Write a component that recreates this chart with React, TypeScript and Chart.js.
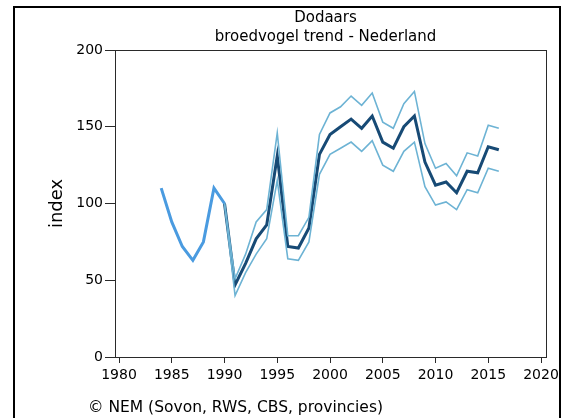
import React, { useEffect, useRef } from "react";
import { Chart, registerables } from "chart.js";

Chart.register(...registerables);

const titleLines = ["Dodaars", "broedvogel trend - Nederland"];
const yAxisTitle = "index";
const footerText = "© NEM (Sovon, RWS, CBS, provincies)";

const years = [
  1984, 1985, 1986, 1987, 1988, 1989, 1990, 1991, 1992, 1993, 1994, 1995,
  1996, 1997, 1998, 1999, 2000, 2001, 2002, 2003, 2004, 2005, 2006, 2007,
  2008, 2009, 2010, 2011, 2012, 2013, 2014, 2015, 2016,
];

// early (unimputed) index 1984-1990
const earlyIndex = [
  110, 88, 72, 63, 75, 110, 100, null, null, null, null, null,
  null, null, null, null, null, null, null, null, null, null, null, null,
  null, null, null, null, null, null, null, null, null,
];

const trendIndex = [
  null, null, null, null, null, null, 100, 47, 61, 77, 86, 131,
  72, 71, 84, 132, 145, 150, 155, 149, 157, 140, 136, 150,
  157, 127, 112, 114, 107, 121, 120, 137, 135,
];

const upperBound = [
  null, null, null, null, null, null, 100, 51, 67, 88, 96, 146,
  79, 79, 91, 145, 159, 163, 170, 164, 172, 153, 149, 165,
  173, 139, 123, 126, 118, 133, 131, 151, 149,
];

const lowerBound = [
  null, null, null, null, null, null, 100, 40, 55, 67, 77, 115,
  64, 63, 75, 119, 132, 136, 140, 134, 141, 125, 121, 134,
  140, 111, 99, 101, 96, 109, 107, 123, 121,
];

const xTicks = [1980, 1985, 1990, 1995, 2000, 2005, 2010, 2015, 2020];
const yTicks = [0, 50, 100, 150, 200];

const toPoints = (vals: (number | null)[]) =>
  years.map((y, i) => ({ x: y, y: vals[i] }));

export default function App() {
  const ref = useRef<HTMLCanvasElement | null>(null);

  useEffect(() => {
    if (!ref.current) return;

    const framePlugin = {
      id: "framePlugin",
      beforeDatasetsDraw(chart: any) {
        const { ctx, chartArea } = chart;
        ctx.save();
        ctx.strokeStyle = "#2a2a2a";
        ctx.lineWidth = 1;
        ctx.strokeRect(
          Math.round(chartArea.left) + 0.5,
          Math.round(chartArea.top) + 0.5,
          Math.round(chartArea.right - chartArea.left),
          Math.round(chartArea.bottom - chartArea.top)
        );
        ctx.restore();
      },
      afterDraw(chart: any) {
        const { ctx, chartArea } = chart;
        ctx.save();
        ctx.fillStyle = "#000";
        ctx.textAlign = "center";
        ctx.textBaseline = "middle";
        ctx.font = "15px 'DejaVu Sans'";
        const cx = (chartArea.left + chartArea.right) / 2 - 5;
        ctx.fillText(titleLines[0], cx, 18);
        ctx.fillText(titleLines[1], cx, 37);
        ctx.textAlign = "left";
        ctx.font = "15.5px 'DejaVu Sans'";
        ctx.fillText(footerText, 88, 408);
        ctx.restore();
      },
    };

    const chart = new Chart(ref.current, {
      type: "line",
      data: {
        datasets: [
          {
            label: "early",
            data: toPoints(earlyIndex),
            borderColor: "#4a9be0",
            borderWidth: 3,
            pointRadius: 0,
            spanGaps: false,
          },
          {
            label: "upper",
            data: toPoints(upperBound),
            borderColor: "#6db3d4",
            borderWidth: 1.6,
            pointRadius: 0,
          },
          {
            label: "lower",
            data: toPoints(lowerBound),
            borderColor: "#6db3d4",
            borderWidth: 1.6,
            pointRadius: 0,
          },
          {
            label: "index",
            data: toPoints(trendIndex),
            borderColor: "#174a75",
            borderWidth: 3,
            pointRadius: 0,
          },
        ],
      },
      options: {
        animation: false,
        responsive: false,
        maintainAspectRatio: false,
        layout: { padding: { left: 0, right: 16, top: 50, bottom: 0 } },
        plugins: {
          legend: { display: false },
          title: { display: false },
          tooltip: { enabled: false },
        },
        scales: {
          x: {
            type: "linear",
            min: 1979.62,
            max: 2020.47,
            afterBuildTicks: (axis: any) => {
              axis.ticks = xTicks.map((v) => ({ value: v }));
            },
            afterFit: (axis: any) => {
              axis.height = 61;
            },
            grid: {
              display: true,
              drawOnChartArea: false,
              drawTicks: true,
              tickLength: 6,
              color: "#2a2a2a",
            },
            border: { display: true, color: "#2a2a2a" },
            ticks: {
              color: "#000",
              font: { family: "'DejaVu Sans'", size: 14 },
              padding: 4,
              maxRotation: 0,
              autoSkip: false,
              callback: (v: any) => String(v),
            },
          },
          y: {
            min: 0,
            max: 200,
            afterBuildTicks: (axis: any) => {
              axis.ticks = yTicks.map((v) => ({ value: v }));
            },
            afterFit: (axis: any) => {
              axis.width = 115;
            },
            grid: {
              display: true,
              drawOnChartArea: false,
              drawTicks: true,
              tickLength: 10,
              color: "#2a2a2a",
            },
            border: { display: true, color: "#2a2a2a" },
            title: {
              display: true,
              text: yAxisTitle,
              color: "#000",
              font: { family: "'DejaVu Sans'", size: 18 },
              padding: { top: 47, bottom: 0 },
            },
            ticks: {
              color: "#000",
              font: { family: "'DejaVu Sans'", size: 14 },
              padding: 2,
              autoSkip: false,
              callback: (v: any) => String(v),
            },
          },
        },
      },
      plugins: [framePlugin],
    });

    return () => chart.destroy();
  }, []);

  return (
    <div
      style={{
        position: "fixed",
        left: 0,
        top: 0,
        width: 563,
        height: 418,
        background: "#fff",
        overflow: "hidden",
      }}
    >
      <div
        style={{
          position: "absolute",
          left: 13,
          top: 6,
          width: 548,
          height: 430,
          border: "2.5px solid #000",
          boxSizing: "border-box",
        }}
      />
      <canvas
        ref={ref}
        width={563}
        height={418}
        style={{ position: "absolute", left: 0, top: 0, width: 563, height: 418 }}
      />
    </div>
  );
}
